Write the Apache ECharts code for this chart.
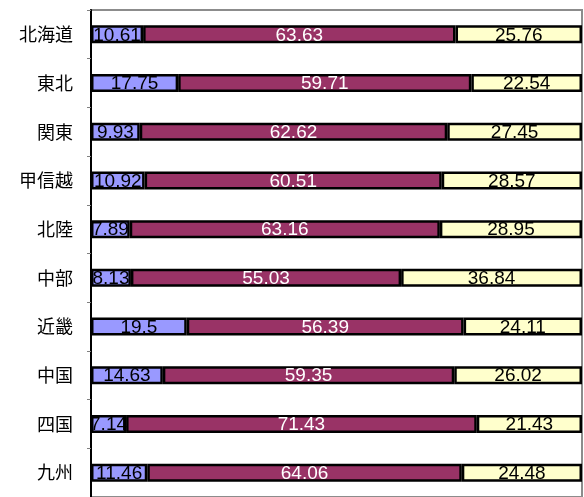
<!DOCTYPE html>
<html>
<head>
<meta charset="utf-8">
<style>
  html, body { margin: 0; padding: 0; background: #ffffff; }
  #chart { width: 584px; height: 497px; }
</style>
<script src="https://cdn.jsdelivr.net/npm/echarts@6/dist/echarts.min.js"></script>
</head>
<body>
<div id="chart"></div>
<script>
// Regions, listed top to bottom
const regions = ['北海道', '東北', '関東', '甲信越', '北陸', '中部', '近畿', '中国', '四国', '九州'];

// Share of each part (%), per region
const partA = [10.61, 17.75, 9.93, 10.92, 7.89, 8.13, 19.5, 14.63, 7.14, 11.46];
const partB = [63.63, 59.71, 62.62, 60.51, 63.16, 55.03, 56.39, 59.35, 71.43, 64.06];
const partC = [25.76, 22.54, 27.45, 28.57, 28.95, 36.84, 24.11, 26.02, 21.43, 24.48];

const numFont = '"Liberation Sans", Arial, sans-serif';

function seg(name, data, fill, textColor) {
  return {
    name: name,
    type: 'bar',
    stack: 'total',
    data: data,
    barWidth: 18,
    itemStyle: { color: fill, borderColor: '#000000', borderWidth: 2.5 },
    label: {
      show: true,
      position: 'inside',
      color: textColor,
      fontFamily: numFont,
      fontSize: 19,
      offset: [0, 1],
      formatter: p => String(p.value)
    },
    emphasis: { disabled: true },
    animation: false
  };
}

const chart = echarts.init(document.getElementById('chart'), null, { renderer: 'canvas' });
chart.setOption({
  backgroundColor: '#ffffff',
  animation: false,
  grid: {
    left: 91, top: 10, width: 491, height: 490,
    show: true, borderColor: '#8c8c8c', borderWidth: 2, backgroundColor: 'transparent'
  },
  xAxis: {
    type: 'value', min: 0, max: 100, show: false
  },
  yAxis: {
    type: 'category',
    data: regions,
    inverse: true,
    axisLine: { show: true, lineStyle: { color: '#000000', width: 2 } },
    axisTick: { show: true, length: 4, lineStyle: { color: '#808080' } },
    axisLabel: {
      color: '#000000',
      fontFamily: '"Noto Sans CJK JP", sans-serif',
      fontSize: 18,
      margin: 18
    },
    splitLine: { show: false }
  },
  series: [
    seg('A', partA, '#9999ff', '#000000'),
    seg('B', partB, '#993366', '#ffffff'),
    seg('C', partC, '#ffffcc', '#000000')
  ]
});
</script>
</body>
</html>
